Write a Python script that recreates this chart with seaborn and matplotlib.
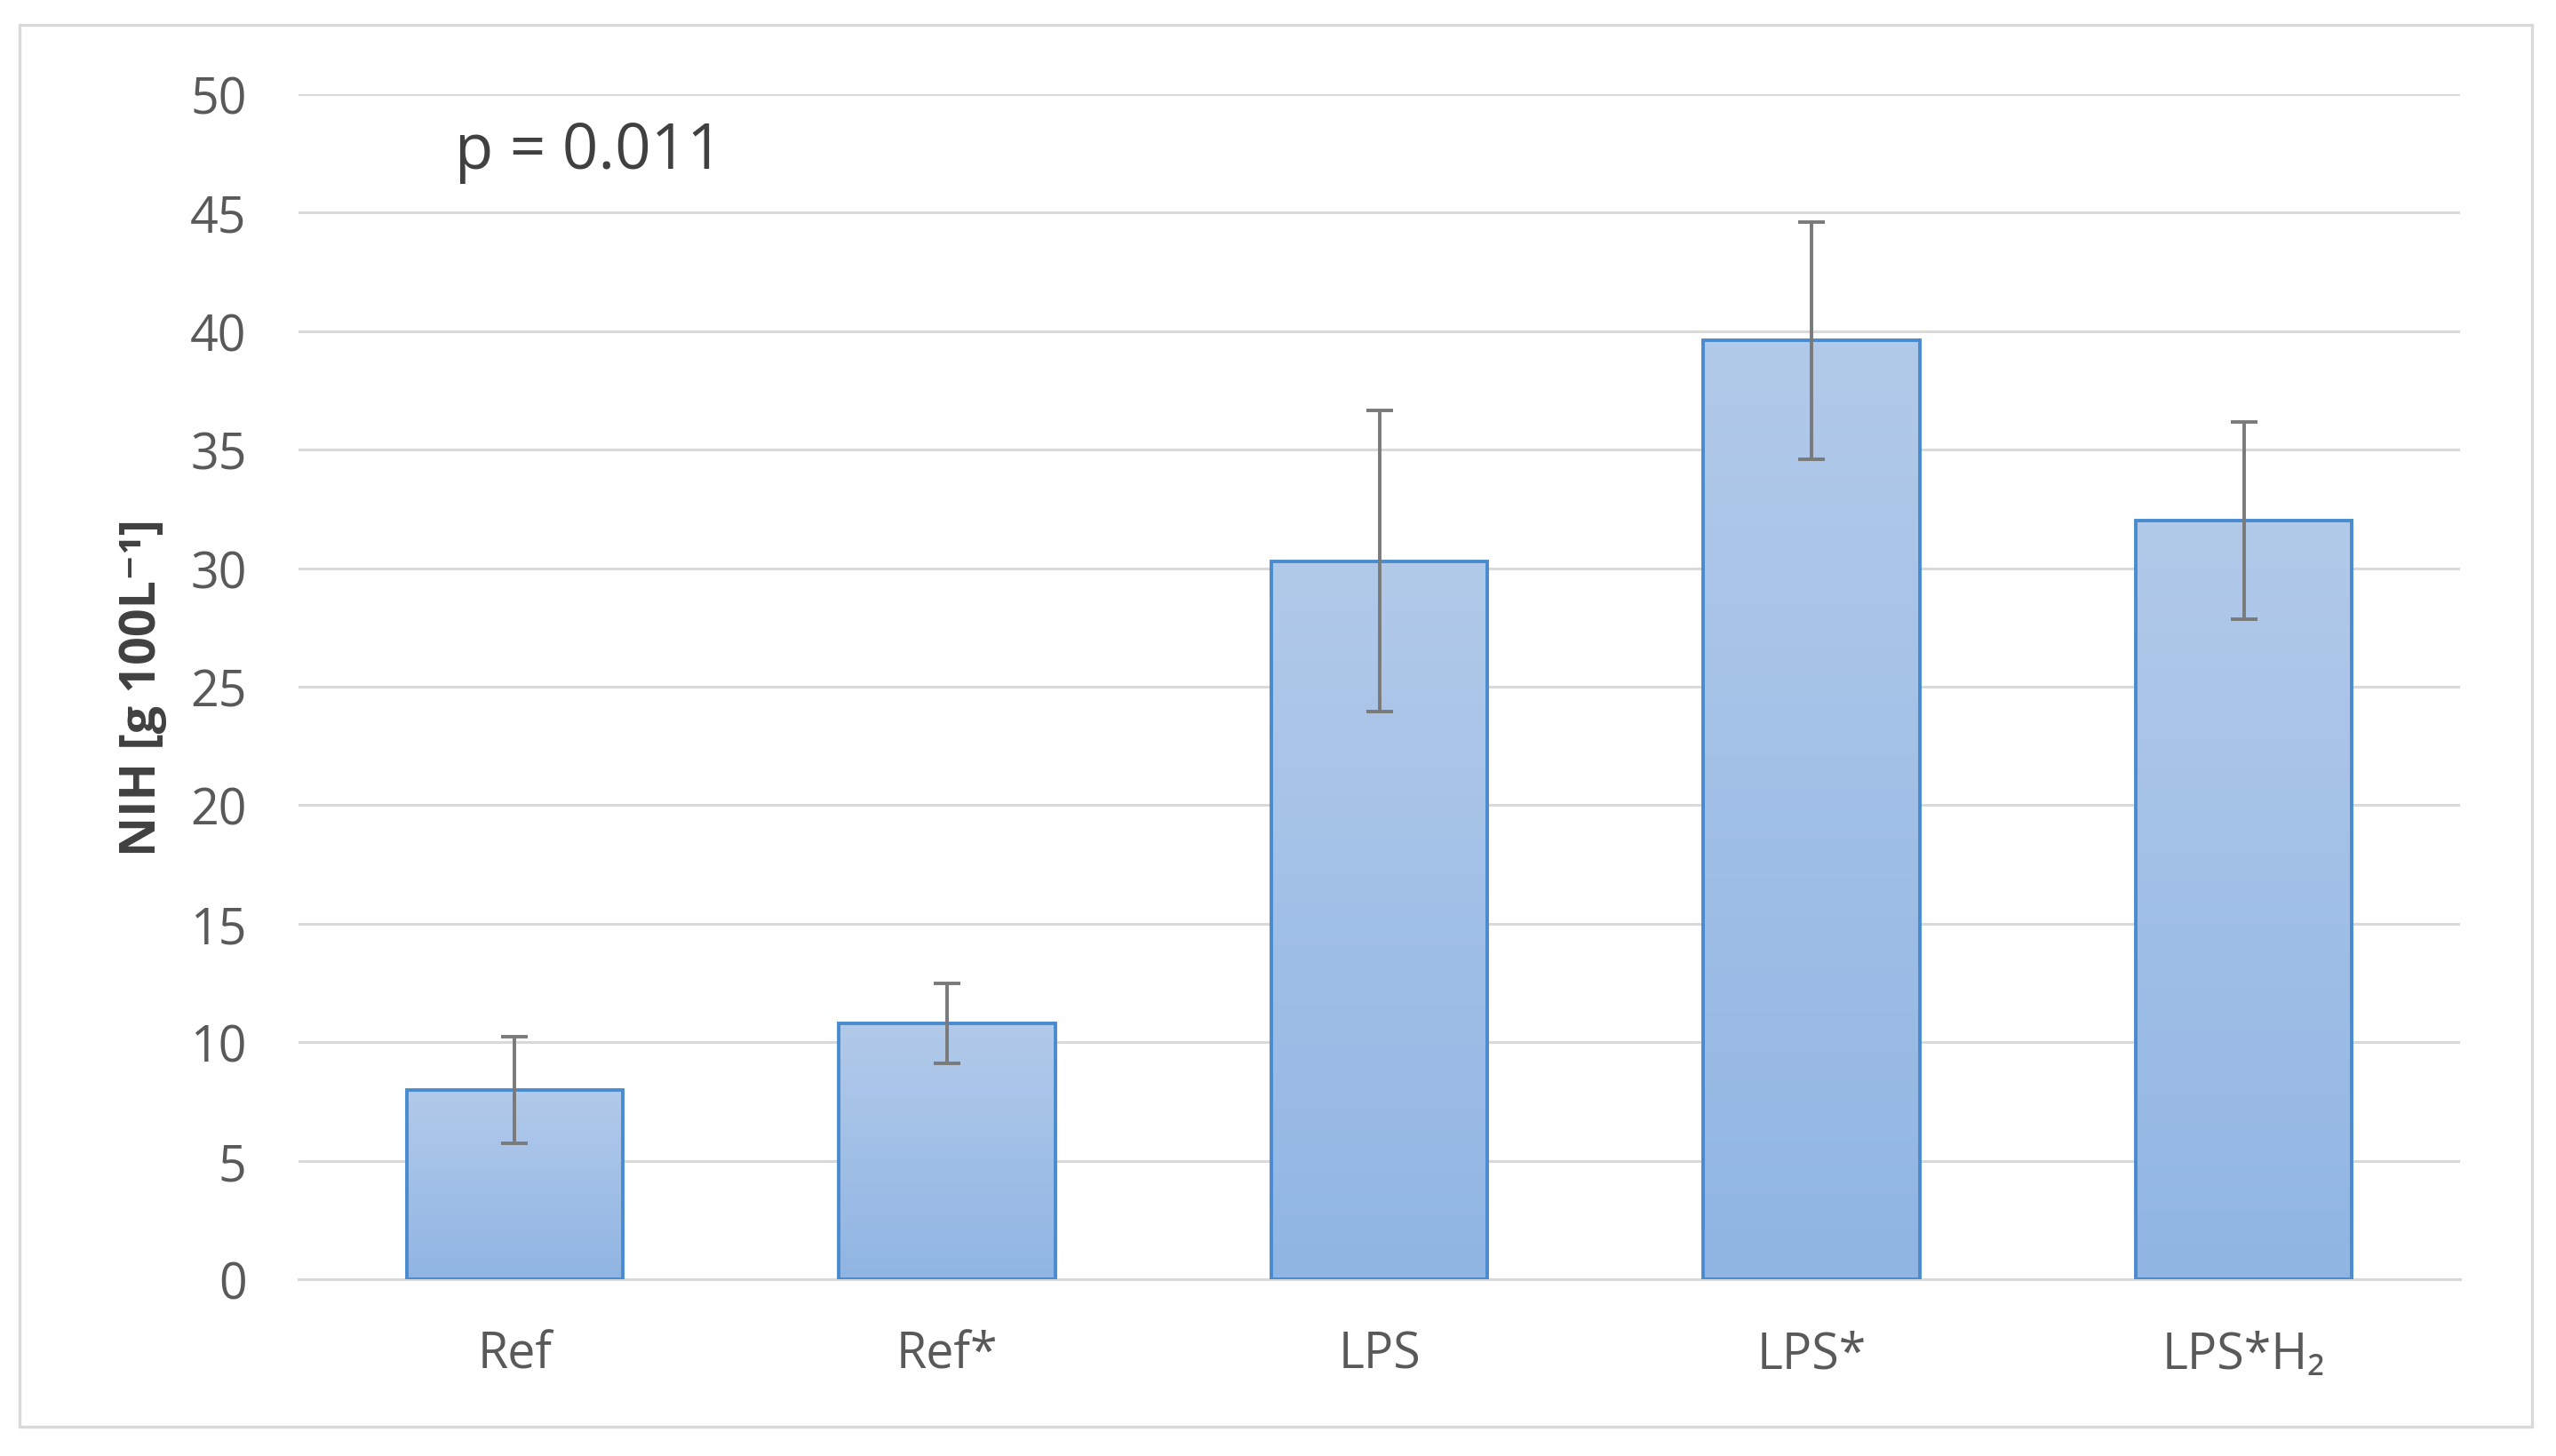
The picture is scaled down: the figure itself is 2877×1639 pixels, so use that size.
import numpy as np
import pandas as pd
import matplotlib
matplotlib.use("Agg")
import matplotlib.pyplot as plt
from matplotlib.patches import Rectangle
from matplotlib.colors import LinearSegmentedColormap
import seaborn as sns

# ---- data ----
categories = ["Ref", "Ref*", "LPS", "LPS*", "LPS*H\u2082"]
means = [8.0, 10.8, 30.3, 39.6, 32.0]
errors = [2.25, 1.7, 6.35, 5.0, 4.17]
y_ticks = [0, 5, 10, 15, 20, 25, 30, 35, 40, 45, 50]
y_label = "NIH [g 100L\u207b\u00b9]"
p_text = "p = 0.011"

sns.set_theme(style="white")
plt.rcParams['font.family'] = ['Open Sans', 'DejaVu Sans']

W, H = 2877, 1640
fig = plt.figure(figsize=(W / 100, H / 100), dpi=100)
fig.patch.set_facecolor("white")

# plot area in pixel coordinates
left_px, right_px, top_px, bot_px = 336, 2769, 107, 1441
ax = fig.add_axes([left_px / W, (H - bot_px) / H,
                   (right_px - left_px) / W, (bot_px - top_px) / H])

df = pd.DataFrame({"cat": categories, "val": means})
sns.barplot(data=df, x="cat", y="val", ax=ax, order=categories,
            color="#9dbde6", edgecolor="#4a8bd0", linewidth=2.8,
            width=0.5, saturation=1, errorbar=None)

ax.set_xlim(-0.5, len(categories) - 0.5)
ax.set_ylim(0, 50)
ax.set_yticks(y_ticks)

# gradient fill for each bar
cmap = LinearSegmentedColormap.from_list("g", ["#90b5e3", "#b2caea"])
grad = np.linspace(0, 1, 256).reshape(-1, 1)
for patch in ax.patches:
    x0, y0 = patch.get_x(), patch.get_y()
    w, h = patch.get_width(), patch.get_height()
    im = ax.imshow(grad, cmap=cmap, origin="lower", aspect="auto",
                   extent=[x0, x0 + w, y0, y0 + h], zorder=2,
                   interpolation="bicubic")
    im.set_clip_path(patch)
    patch.set_facecolor("none")
    patch.set_zorder(3)

ax.set_xlim(-0.5, len(categories) - 0.5)
ax.set_ylim(0, 50)

# error bars
ax.errorbar(np.arange(len(categories)), means, yerr=errors, fmt="none",
            ecolor="#7a7a7a", elinewidth=2.8, capsize=11, capthick=2.8,
            zorder=4)

# grid
ax.yaxis.grid(True, color="#d9d9d9", linewidth=2.2)
ax.xaxis.grid(False)
ax.set_axisbelow(True)
for s in ["left", "right", "top"]:
    ax.spines[s].set_visible(False)
ax.spines["bottom"].set_color("#d9d9d9")
ax.spines["bottom"].set_linewidth(2.2)

ax.tick_params(axis="both", length=0, labelsize=40, colors="#595959")
ax.tick_params(axis="y", pad=42)
ax.tick_params(axis="x", pad=41)
ax.set_xlabel("")
ax.set_ylabel(y_label, fontsize=40, fontweight="bold", color="#404040")
ax.yaxis.set_label_coords(-0.061, 0.5)

ax.text(512 / W, (H - 190) / H, p_text, transform=fig.transFigure,
        fontsize=51, color="#404040", ha="left", va="baseline")

# outer chart border
fig.add_artist(Rectangle((22 / W, (H - 1607) / H), (2850 - 22) / W,
                         (1607 - 29) / H, transform=fig.transFigure,
                         fill=False, edgecolor="#d9d9d9", linewidth=2.4))

fig.savefig("out.png", dpi=100, facecolor="white")
